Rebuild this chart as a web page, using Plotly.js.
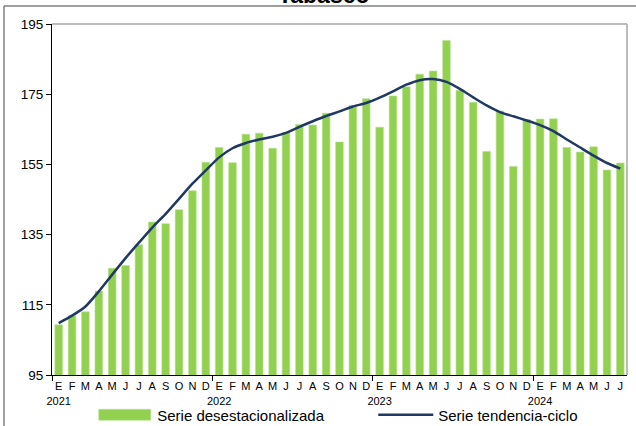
<!DOCTYPE html>
<html>
<head>
<meta charset="utf-8">
<script src="https://cdn.plot.ly/plotly-3.0.1.min.js"></script>
<style>
html,body{margin:0;padding:0;background:#fff;}
#chart{width:636px;height:426px;}
</style>
</head>
<body>
<div id="chart"></div>
<script>
var monthLetters = ['E','F','M','A','M','J','J','A','S','O','N','D'];
var years = ['2021','2022','2023','2024'];
var nMonths = 43;

var serieDesestacionalizada = [
  109.3, 111.9, 113.0, 118.9, 125.4, 126.2, 132.1, 138.6, 138.1, 142.1, 147.5, 155.6,
  159.8, 155.5, 163.6, 163.9, 159.6, 164.1, 166.4, 166.2, 169.6, 161.4, 171.8, 173.7,
  165.6, 174.5, 177.1, 180.7, 181.6, 190.3, 176.1, 172.7, 158.7, 170.2, 154.4, 167.8,
  167.9, 168.0, 159.8, 158.5, 160.0, 153.4, 155.4
];
var serieTendencia = [
  109.8, 111.9, 114.5, 118.8, 123.6, 128.3, 132.7, 137.0, 140.9, 145.2, 149.5, 153.3,
  157.0, 159.6, 161.1, 162.1, 162.9, 164.0, 165.7, 167.3, 168.8, 170.1, 171.5, 172.5,
  174.0, 175.8, 177.7, 179.0, 179.3, 178.5, 176.5, 174.1, 171.8, 169.9, 168.7, 167.5,
  166.2, 164.5, 162.1, 159.8, 157.5, 155.4, 153.8
];
var yTicks = [95, 115, 135, 155, 175, 195];

var xIdx = [], tickText = [], yearBounds = [];
for (var i = 0; i < nMonths; i++) {
  xIdx.push(i);
  var m = i % 12;
  if (m === 0) {
    tickText.push(monthLetters[m] + '<br>' + years[Math.floor(i / 12)]);
    yearBounds.push(i - 0.5);
  } else {
    tickText.push(monthLetters[m]);
  }
}

var FONT = 'Liberation Sans, Arial, sans-serif';

var traces = [
  {
    type: 'bar', x: xIdx, y: serieDesestacionalizada, name: 'Serie desestacionalizada',
    marker: {color: '#92D050', line: {color: '#B9E190', width: 0.6}},
    hoverinfo: 'y'
  },
  {
    type: 'scatter', mode: 'lines', x: xIdx, y: serieTendencia, name: 'Serie tendencia-ciclo',
    line: {color: '#1F3864', width: 2.5, shape: 'spline', smoothing: 0.6},
    hoverinfo: 'y'
  }
];

var layout = {
  width: 636, height: 426,
  margin: {l: 52, r: 9, t: 24, b: 51, autoexpand: false},
  paper_bgcolor: '#fff', plot_bgcolor: '#fff',
  font: {family: FONT, color: '#000'},
  title: {
    text: '<b>Tabasco</b>', font: {family: FONT, size: 23, color: '#000'},
    xref: 'container', x: 0.509, xanchor: 'center',
    yref: 'container', y: 0.993, yanchor: 'bottom'
  },
  bargap: 0.43,
  showlegend: true,
  legend: {
    orientation: 'h', x: 0.07, y: -0.067, xanchor: 'left', yanchor: 'top',
    font: {family: FONT, size: 15, color: '#000'},
    itemwidth: 55, entrywidth: 211, entrywidthmode: 'pixels',
    tracegroupgap: 0, bgcolor: 'rgba(0,0,0,0)'
  },
  xaxis: {
    range: [-0.5, nMonths - 0.5], tickmode: 'array', tickvals: xIdx, ticktext: tickText,
    ticks: '', tickangle: 0, showgrid: false, zeroline: false,
    showline: true, linecolor: '#000', linewidth: 1,
    tickfont: {family: FONT, size: 11, color: '#000'},
    ticklabelstandoff: 1,
    minor: {tickmode: 'array', tickvals: yearBounds, ticks: 'outside', ticklen: 5, tickcolor: '#000', tickwidth: 1, showgrid: false},
    fixedrange: true
  },
  yaxis: {
    range: [95, 195], tickmode: 'array', tickvals: yTicks,
    ticks: 'outside', ticklen: 5, tickcolor: '#000', tickwidth: 1,
    showgrid: false, zeroline: false,
    showline: true, linecolor: '#000', linewidth: 1,
    tickfont: {family: FONT, size: 13.5, color: '#000'},
    fixedrange: true
  },
  shapes: [
    {type: 'line', xref: 'paper', yref: 'paper', x0: 0, x1: 1, y0: 1, y1: 1, line: {color: '#A6A6A6', width: 1.5}},
    {type: 'line', xref: 'paper', yref: 'paper', x0: 1, x1: 1, y0: 0, y1: 1, line: {color: '#A6A6A6', width: 1.5}},
    {type: 'rect', xref: 'paper', yref: 'paper', x0: -0.0835, x1: 1.2, y0: -0.3, y1: 1.0513, line: {color: '#404040', width: 1}, fillcolor: 'rgba(0,0,0,0)', layer: 'below'}
  ]
};

Plotly.newPlot('chart', traces, layout, {staticPlot: true, displayModeBar: false}).then(function (gd) {
  // widen the bar legend swatch to the wide rectangle used in the reference
  var pts = gd.querySelectorAll('.legend .traces');
  if (pts.length) {
    var barPath = pts[0].querySelector('.legendpoints path');
    if (barPath) barPath.setAttribute('d', 'M-26,-5.5H26V5.5H-26Z');
  }
});
</script>
</body>
</html>
